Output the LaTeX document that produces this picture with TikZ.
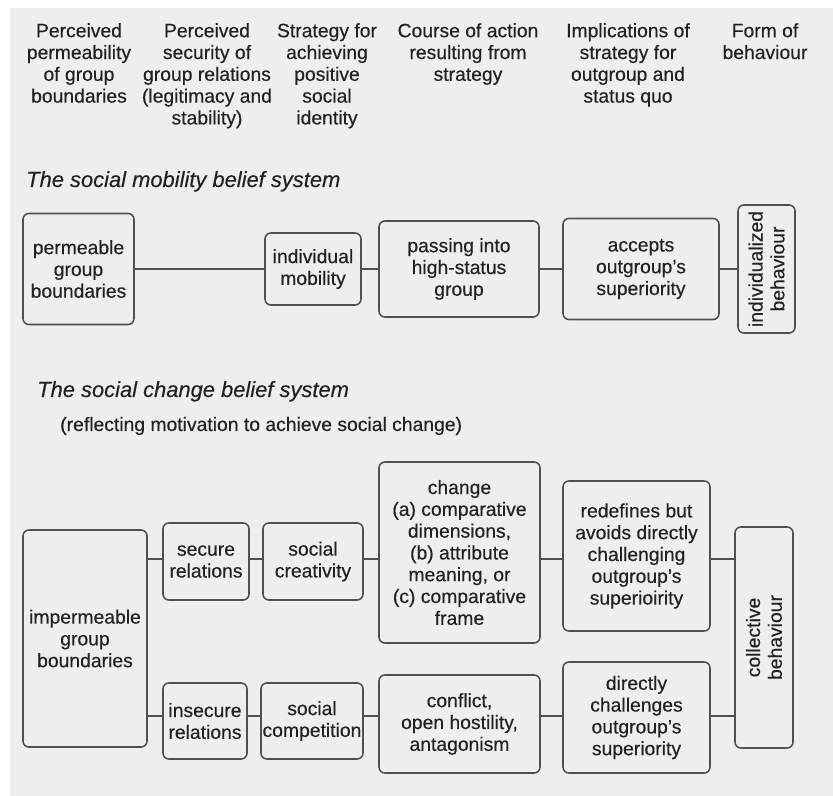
\documentclass[tikz,border=0pt]{standalone}
\usepackage{fontspec}
\setmainfont{Liberation Sans}[FakeBold=0.35]

\newcommand*{\px}{0.03cm}

\definecolor{paper}{RGB}{238,238,238}
\definecolor{ink}{RGB}{34,34,34}
\definecolor{rule}{RGB}{80,80,80}

\begin{document}
\begin{tikzpicture}
[
	x=\px, y=-\px,
	every node/.style={text=ink,font=\fontsize{16.5}{18.6}\selectfont},
	head/.style={align=center,anchor=north,inner sep=0pt},
	title/.style={anchor=base west,inner sep=0pt,font=\fontsize{18.7}{20}\selectfont\itshape},
	box/.style={draw=rule,line width=1.3pt,rounded corners=5pt,align=center,inner sep=0pt},
	link/.style={draw=rule,line width=1.3pt}
]

	% page
	\useasboundingbox (0,0) rectangle (833,796);
	\fill[white] (0,0) rectangle (833,796);
	\fill[paper] (10,8) rectangle (833,796);

	% column headings
	\node[head] (hperm) at (79,23) {Perceived\\permeability\\of group\\boundaries};
	\node[head] (hsec) at (207,23) {Perceived\\security of\\group relations\\(legitimacy and\\stability)};
	\node[head] (hstrat) at (327,23) {Strategy for\\achieving\\positive\\social\\identity};
	\node[head] (hcourse) at (468,23) {Course of action\\resulting from\\strategy};
	\node[head] (himpl) at (628,23) {Implications of\\strategy for\\outgroup and\\status quo};
	\node[head] (hform) at (765,23) {Form of\\behaviour};

	% social mobility
	\node[title] (tmob) at (26,187) {The social mobility belief system};

	\node[box,minimum width=111*\px,minimum height=111*\px] (perm) at (78.5,269) {permeable\\group\\boundaries};
	\node[box,minimum width=96*\px,minimum height=72*\px] (indiv) at (313,269) {individual\\mobility};
	\node[box,minimum width=160*\px,minimum height=96*\px] (pass) at (459,269) {passing into\\high-status\\group};
	\node[box,minimum width=156*\px,minimum height=101*\px] (accept) at (641,269) {accepts\\outgroup's\\superiority};
	\node[box,rotate=90,minimum width=128*\px,minimum height=57*\px] (indbeh) at (766.5,269) {individualized\\behaviour};

	\draw[link] (perm) -- (indiv);
	\draw[link] (indiv) -- (pass);
	\draw[link] (pass) -- (accept);
	\draw[link] (accept) -- (indbeh);

	% social change
	\node[title] (tchg) at (37,397) {The social change belief system};
	\node[anchor=base west,inner sep=0pt] (tmotiv) at (60,431) {(reflecting motivation to achieve social change)};

	\coordinate (uprow) at (0,559);
	\coordinate (lowrow) at (0,716);

	\node[box,minimum width=124*\px,minimum height=217*\px] (imperm) at (85,638.5) {impermeable\\group\\boundaries};
	\node[box,minimum width=86*\px,minimum height=77*\px] (secure) at (206,561.5) {secure\\relations};
	\node[box,minimum width=100*\px,minimum height=77*\px] (creat) at (313,561.5) {social\\creativity};
	\node[box,minimum width=84*\px,minimum height=76*\px] (insecure) at (205,721) {insecure\\relations};
	\node[box,minimum width=102*\px,minimum height=76*\px] (compet) at (312,721) {social\\competition};
	\node[box,minimum width=161*\px,minimum height=181*\px] (change) at (459.5,552.5) {change\\(a) comparative\\dimensions,\\(b) attribute\\meaning, or\\(c) comparative\\frame};
	\node[box,minimum width=161*\px,minimum height=98*\px] (conflict) at (459.5,724) {conflict,\\open hostility,\\antagonism};
	\node[box,minimum width=147*\px,minimum height=150*\px] (redef) at (636.5,556) {redefines but\\avoids directly\\challenging\\outgroup's\\superioirity};
	\node[box,minimum width=147*\px,minimum height=111*\px] (direct) at (636.5,717.5) {directly\\challenges\\outgroup's\\superiority};
	\node[box,rotate=90,minimum width=221*\px,minimum height=58*\px] (coll) at (764,637.5) {collective\\behaviour};

	% rotated box: its north side faces left
	\draw[link] (imperm.east |- uprow) -- (secure.west |- uprow);
	\draw[link] (secure.east |- uprow) -- (creat.west |- uprow);
	\draw[link] (creat.east |- uprow) -- (change.west |- uprow);
	\draw[link] (change.east |- uprow) -- (redef.west |- uprow);
	\draw[link] (redef.east |- uprow) -- (coll.north |- uprow);

	\draw[link] (imperm.east |- lowrow) -- (insecure.west |- lowrow);
	\draw[link] (insecure.east |- lowrow) -- (compet.west |- lowrow);
	\draw[link] (compet.east |- lowrow) -- (conflict.west |- lowrow);
	\draw[link] (conflict.east |- lowrow) -- (direct.west |- lowrow);
	\draw[link] (direct.east |- lowrow) -- (coll.north |- lowrow);

\end{tikzpicture}
\end{document}
